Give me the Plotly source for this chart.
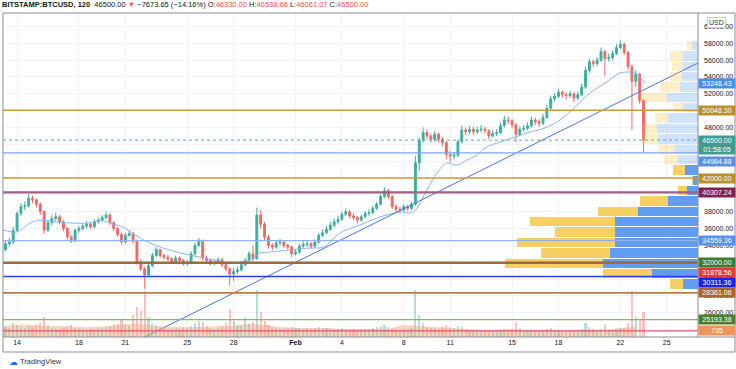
import plotly.graph_objects as go
import pandas as pd
import numpy as np

# ---------------- DATA ----------------
# 6-hour candles starting 2021-01-13 06:00 (prices in thousands USD)
first_open_k = 33.5
close_k = [34.2, 34.4, 35.8, 37.8, 38.6, 38.7, 39.6, 39.4, 38.9, 38.0,
           35.8, 36.7, 37.2, 37.4, 36.8, 36.0, 35.0, 34.5, 35.8, 36.0,
           36.3, 36.5, 36.2, 36.8, 37.0, 37.3, 37.6, 36.7, 36.0, 35.3,
           34.4, 35.2, 35.4, 34.5, 32.0, 31.2, 30.5, 31.6, 32.8, 33.5,
           32.8, 32.6, 32.4, 32.0, 32.5, 32.2, 31.8, 32.0, 33.0, 34.0,
           34.6, 32.5, 32.2, 31.9, 32.0, 32.3, 31.7, 31.2, 30.6, 30.9,
           31.1, 31.7, 32.2, 33.0, 32.4, 37.6, 36.5, 35.0, 34.0, 33.8,
           34.3, 34.4, 34.0, 33.8, 33.0, 33.2, 33.9, 34.1, 34.2, 33.9,
           34.4, 35.2, 35.5, 35.9, 36.4, 36.8, 37.1, 37.7, 38.0, 37.5,
           37.3, 37.0, 37.4, 37.8, 37.9, 38.4, 38.9, 39.8, 40.5, 39.8,
           38.6, 38.3, 38.2, 38.6, 38.4, 38.9, 43.8, 46.5, 47.4, 47.0,
           46.6, 47.2, 46.6, 46.2, 44.8, 44.6, 44.7, 46.3, 47.7, 47.5,
           47.8, 47.5, 47.7, 47.8, 47.6, 47.0, 47.3, 47.4, 48.2, 48.9,
           48.8, 48.3, 47.2, 47.8, 47.9, 48.2, 48.9, 48.7, 48.5, 49.2,
           50.3, 51.4, 51.7, 52.2, 51.9, 51.8, 52.0, 51.5, 51.9, 52.8,
           54.8, 55.8, 55.6, 56.0, 57.0, 56.2, 56.3, 56.8, 57.5, 57.9,
           56.9, 55.2, 53.5, 54.3, 51.2, 46.5]
high_k = [34.6, 34.9, 36.2, 38.0, 39.0, 39.2, 40.1, 39.9, 39.6, 39.1,
          38.2, 37.0, 37.6, 37.9, 37.6, 37.0, 36.2, 35.2, 36.0, 36.3,
          36.6, 36.9, 36.8, 37.1, 37.3, 37.6, 38.0, 37.8, 36.9, 36.2,
          35.5, 35.5, 35.8, 35.6, 34.7, 32.4, 31.5, 31.9, 33.1, 33.8,
          33.6, 33.0, 32.9, 32.6, 32.8, 32.7, 32.4, 32.3, 33.3, 34.3,
          34.9, 34.7, 32.8, 32.4, 32.3, 32.6, 32.5, 31.9, 31.4, 31.3,
          31.5, 32.0, 32.5, 33.3, 34.0, 38.5, 38.2, 36.8, 35.3, 34.3,
          34.6, 34.8, 34.6, 34.2, 34.0, 33.5, 34.2, 34.5, 34.6, 34.4,
          34.7, 35.5, 35.9, 36.3, 36.8, 37.2, 37.5, 38.0, 38.4, 38.2,
          37.8, 37.5, 37.7, 38.1, 38.3, 38.7, 39.2, 40.1, 40.9, 40.7,
          40.0, 38.9, 38.6, 38.9, 38.8, 39.2, 44.6, 46.8, 48.0, 47.8,
          47.3, 47.6, 47.4, 46.9, 46.4, 45.2, 45.1, 46.6, 48.2, 48.0,
          48.2, 48.1, 48.1, 48.3, 48.1, 47.8, 47.7, 47.8, 48.6, 49.4,
          49.3, 49.0, 48.5, 48.1, 48.3, 48.6, 49.3, 49.2, 49.0, 49.6,
          50.7, 51.8, 52.1, 52.6, 52.4, 52.2, 52.4, 52.2, 52.3, 53.2,
          55.2, 56.2, 56.1, 56.4, 57.5, 57.2, 56.8, 57.2, 57.9, 58.35,
          58.1, 57.1, 55.5, 54.8, 54.5, 51.4]
low_k = [33.3, 33.9, 34.2, 35.6, 37.5, 38.2, 38.5, 39.0, 38.5, 37.6,
         35.4, 35.6, 36.4, 36.9, 36.5, 35.7, 34.7, 34.3, 34.4, 35.5,
         35.8, 36.0, 35.9, 36.0, 36.6, 36.8, 37.1, 36.4, 35.7, 35.0,
         34.1, 34.2, 35.0, 34.2, 31.7, 30.9, 28.8, 30.3, 31.4, 32.6,
         32.5, 32.3, 32.1, 31.8, 31.8, 31.9, 31.6, 31.6, 31.9, 32.8,
         33.8, 32.2, 31.9, 31.6, 31.6, 31.9, 31.4, 30.9, 29.2, 29.8,
         30.6, 30.9, 31.5, 32.0, 32.1, 32.3, 36.0, 34.6, 33.6, 33.4,
         33.6, 34.0, 33.7, 33.5, 32.6, 32.8, 33.0, 33.7, 33.8, 33.6,
         33.7, 34.2, 35.0, 35.3, 35.7, 36.1, 36.5, 36.9, 37.5, 37.2,
         37.0, 36.6, 36.8, 37.2, 37.5, 37.7, 38.2, 38.7, 39.6, 39.5,
         38.3, 38.0, 37.8, 38.0, 38.1, 38.2, 38.7, 42.8, 46.2, 46.6,
         46.2, 46.3, 46.2, 45.8, 44.2, 43.9, 44.2, 44.5, 46.1, 47.1,
         47.2, 47.1, 47.2, 47.4, 47.2, 46.6, 46.8, 47.0, 47.2, 48.0,
         48.4, 47.9, 46.3, 47.0, 47.5, 47.7, 48.0, 48.3, 48.1, 48.3,
         49.0, 50.1, 51.1, 51.5, 51.5, 51.3, 51.5, 51.0, 51.2, 51.7,
         52.6, 54.5, 55.2, 55.3, 55.8, 54.1, 55.8, 56.0, 56.6, 57.3,
         56.6, 54.8, 47.7, 52.8, 50.8, 45.0]
# volume per candle (BTC)
volume = [1200, 1080, 1680, 1440, 1200, 1080, 1320, 1200, 1440, 1680,
          2400, 1440, 1080, 960, 960, 1080, 1200, 1440, 1080, 960,
          960, 840, 960, 960, 1080, 960, 1200, 1320, 1440, 1560,
          2160, 1440, 1320, 2640, 3600, 3120, 5520, 2400, 1680, 1440,
          1200, 1080, 960, 960, 1080, 960, 1200, 1080, 1320, 1680,
          1920, 1800, 1320, 1080, 960, 1080, 1320, 1680, 3360, 1920,
          1440, 1440, 2400, 1560, 1800, 5640, 3000, 1920, 1440, 1200,
          1080, 960, 960, 1080, 1200, 1080, 1080, 960, 1080, 960,
          1080, 1200, 1080, 1080, 1080, 960, 960, 1080, 960, 960,
          960, 840, 960, 960, 960, 1080, 1200, 1320, 1440, 1200,
          1080, 960, 840, 960, 960, 1080, 5640, 2640, 1680, 1200,
          1080, 1080, 960, 1200, 1440, 1200, 1080, 1320, 1200, 960,
          840, 840, 840, 720, 720, 840, 720, 720, 840, 960,
          840, 960, 1800, 1080, 840, 720, 840, 720, 720, 840,
          960, 1080, 840, 840, 720, 720, 720, 720, 840, 960,
          1680, 1200, 960, 840, 960, 1440, 840, 840, 960, 1080,
          1080, 1680, 5520, 2400, 2160, 3000]
# volume moving average (daily samples, BTC)
vol_ma_dates = pd.date_range("2021-01-13", "2021-02-23 12:00", freq="D")
vol_ma = [1320, 1440, 1440, 1320, 1320, 1200, 1200, 1320, 1560, 1560,
          1320, 1200, 1200, 1200, 1320, 1320, 1560, 1440, 1200, 1080,
          1080, 1080, 960, 960, 960, 960, 1440, 1320, 1200, 1080,
          960, 840, 840, 960, 840, 840, 720, 840, 840, 840, 1080, 1200]
# moving average line of price
ma_dates = ["2021-01-13 02:00", "2021-01-14 00:00", "2021-01-14 20:00", "2021-01-15 12:00",
            "2021-01-16 11:00", "2021-01-17 10:00", "2021-01-18 17:00", "2021-01-19 09:00",
            "2021-01-20 00:00", "2021-01-20 23:30", "2021-01-21 15:00", "2021-01-22 14:00",
            "2021-01-23 10:30", "2021-01-24 13:00", "2021-01-25 20:00", "2021-01-26 19:00",
            "2021-01-27 11:00", "2021-01-28 10:00", "2021-01-29 09:00", "2021-01-29 17:00",
            "2021-01-30 08:30", "2021-01-31 15:30", "2021-02-01 22:30", "2021-02-02 19:00",
            "2021-02-03 21:00", "2021-02-05 04:00", "2021-02-06 11:00", "2021-02-07 18:00",
            "2021-02-08 14:30", "2021-02-09 12:00", "2021-02-10 03:30", "2021-02-10 19:00",
            "2021-02-11 10:30", "2021-02-12 02:00", "2021-02-12 17:45", "2021-02-13 06:00",
            "2021-02-14 05:30", "2021-02-15 04:30", "2021-02-16 04:00", "2021-02-17 03:00",
            "2021-02-18 02:30", "2021-02-19 01:45", "2021-02-20 01:00", "2021-02-21 00:15",
            "2021-02-21 23:30", "2021-02-22 10:30", "2021-02-22 23:00", "2021-02-23 14:30"]
ma_k = [35.83, 35.60, 36.66, 37.00, 36.78, 36.66, 36.66, 37.00, 36.66, 36.06,
        35.23, 34.28, 33.69, 33.10, 32.60, 32.25, 32.00, 32.00, 32.60, 33.10,
        33.21, 33.45, 33.69, 33.80, 35.47, 36.42, 37.37, 37.96, 37.96, 40.57,
        42.60, 43.78, 43.55, 44.14, 44.73, 45.57, 46.28, 46.87, 47.46, 47.94,
        48.89, 50.43, 52.10, 53.28, 54.47, 54.59, 54.47, 53.28]
ma_last = 53248.43
# trend line anchors
trend_dates = ["2021-01-21 22:00", "2021-02-27 00:00"]
trend_prices = [22800, 55650]
# horizontal levels
level_values = [50048.30, 44984.88, 42000.00, 40307.24, 34559.36,
                32000.00, 31878.56, 30311.36, 28361.06, 25193.38]
volume_level = 735
last_price = 46500.00
countdown = "01:58:05"
# volume profile (visible range, 24 rows, bottom -> top): down (yellow), up (blue)
vp_down = [13, 49, 98, 69, 98, 60, 85, 40, 28, 9, 1, 12,
           14, 17, 16, 14, 13, 10, 27, 20, 12, 11, 13, 5]
vp_up = [15, 46, 95, 88, 83, 83, 83, 60, 30, 11, 5, 13,
         20, 23, 40, 41, 30, 15, 31, 18, 16, 15, 15, 6]
value_area_rows = 12  # lowest rows inside value area
# axis ticks
tick_dates = ["2021-01-14", "2021-01-18", "2021-01-21", "2021-01-25", "2021-01-28",
              "2021-02-01", "2021-02-04", "2021-02-08", "2021-02-11", "2021-02-15",
              "2021-02-18", "2021-02-22", "2021-02-25"]
tick_text = ["14", "18", "21", "25", "28", "<b>Feb</b>", "4", "8", "11", "15", "18", "22", "25"]
header = ("<b>BITSTAMP:BTCUSD, 120</b>  46500.00 <span style='color:#ef5350'>▼</span> "
          "−7673.65 (−14.16%) O:<span style='color:#ef5350'>46330.00</span> "
          "H:<span style='color:#ef5350'>46538.66</span> L:<span style='color:#ef5350'>46061.07</span> "
          "C:<span style='color:#ef5350'>46500.00</span>")

# ---------------- STYLE ----------------
level_colors = ["#c99b3a", "#7ea5ee", "#c99b3a", "#a06080", "#8db2f2",
                "#4e8a3a", "#e8473f", "#2a3ff0", "#c07a45", "#8ab56a"]
level_widths = [1.6, 1.2, 1.6, 2.2, 1.2, 1.6, 1.6, 1.6, 1.6, 1.2]
label_bg = ["#b8902e", "#5f8de0", "#b8902e", "#7d2550", "#5a8fe8",
            "#3f7a2e", "#e53935", "#1a24ee", "#a8662c", "#4a7f2e"]
label_shift = [0, -9, 0, 0, 0, 0, -9, -6, 0, 0]
FONT = "Liberation Sans, Arial, sans-serif"

# ---------------- BUILD ----------------
t0 = pd.Timestamp("2021-01-13 06:00")
times = pd.date_range(t0, periods=len(close_k), freq="6h")
k = 1000.0
close = np.array(close_k) * k
high = np.array(high_k) * k
low = np.array(low_k) * k
open_ = np.array([first_open_k] + close_k[:-1]) * k

fig = go.Figure()

# volume (overlay axis y2, bottom)
vcol = ["rgba(38,166,154,0.35)" if c >= o else "rgba(239,83,80,0.35)" for o, c in zip(open_, close)]
fig.add_trace(go.Scatter(x=vol_ma_dates, y=vol_ma, yaxis="y2", mode="lines", line=dict(width=0, shape="spline"),
                         fill="tozeroy", fillcolor="rgba(242,165,120,0.45)", hoverinfo="skip"))
fig.add_trace(go.Bar(x=times, y=volume, yaxis="y2", marker=dict(color=vcol, line=dict(width=0)),
                     width=6 * 3600 * 1000 * 0.55, hoverinfo="skip"))

fig.add_trace(go.Candlestick(x=times, open=open_, high=high, low=low, close=close,
                             increasing=dict(line=dict(color="#3fae9f", width=1), fillcolor="#3fae9f"),
                             decreasing=dict(line=dict(color="#ef6b67", width=1), fillcolor="#ef6b67"),
                             whiskerwidth=0, hoverinfo="skip"))

fig.add_trace(go.Scatter(x=pd.to_datetime(ma_dates), y=np.array(ma_k) * k, mode="lines",
                         line=dict(color="#86b6f0", width=1, shape="spline"), hoverinfo="skip"))
fig.add_trace(go.Scatter(x=pd.to_datetime(trend_dates), y=trend_prices, mode="lines",
                         line=dict(color="#4a76de", width=1), hoverinfo="skip"))

# volume profile on overlay x axis (x2) from right edge
all_low = low.min()
all_high = high.max()
edges = np.linspace(all_low, all_high, len(vp_up) + 1)
centers = (edges[:-1] + edges[1:]) / 2
rh = edges[1] - edges[0]
n = len(vp_up)
up_col = ["rgba(70,140,238,0.85)" if i < value_area_rows else "rgba(70,140,238,0.25)" for i in range(n)]
dn_col = ["rgba(244,196,60,0.8)" if i < value_area_rows else "rgba(244,196,60,0.28)" for i in range(n)]
fig.add_trace(go.Bar(y=centers, x=vp_up, base=[0] * n, orientation="h", xaxis="x2",
                     marker=dict(color=up_col, line=dict(width=0)), width=rh * 0.9, hoverinfo="skip"))
fig.add_trace(go.Bar(y=centers, x=vp_down, base=vp_up, orientation="h", xaxis="x2",
                     marker=dict(color=dn_col, line=dict(width=0)), width=rh * 0.9, hoverinfo="skip"))

shapes = []
for v, c, w in zip(level_values, level_colors, level_widths):
    shapes.append(dict(type="line", xref="paper", x0=0, x1=1, yref="y", y0=v, y1=v,
                       line=dict(color=c, width=w)))
shapes.append(dict(type="line", xref="paper", x0=0, x1=1, yref="y", y0=last_price, y1=last_price,
                   line=dict(color="#5fb3a6", width=1, dash="dot")))
shapes.append(dict(type="line", xref="paper", x0=0, x1=1, yref="y2", y0=volume_level, y1=volume_level,
                   line=dict(color="#e8507a", width=1.4)))
# frame
fx1 = (735 - 3) / 695
fy0 = (337 - 352) / 324
frame = "#8a8d96"
shapes += [
    dict(type="rect", xref="paper", yref="paper", x0=0, x1=fx1, y0=fy0, y1=1, line=dict(color=frame, width=1)),
    dict(type="line", xref="paper", yref="paper", x0=1, x1=1, y0=0, y1=1, line=dict(color=frame, width=1)),
    dict(type="line", xref="paper", yref="paper", x0=0, x1=fx1, y0=0, y1=0, line=dict(color=frame, width=1)),
]

ann = []
lab_font = dict(family=FONT, size=7, color="white")
def label(y, text, bg, shift=0, yref="y"):
    ann.append(dict(xref="paper", x=1.0, xanchor="left", yref=yref, y=y, yanchor="middle", yshift=shift,
                    text=text, showarrow=False, bgcolor=bg, font=lab_font, width=34, align="center",
                    borderpad=1))
label(ma_last, f"{ma_last:.2f}", "#4a8fe8")
for v, bg, s in zip(level_values, label_bg, label_shift):
    label(v, f"{v:.2f}", bg, s)
label(last_price, f"{last_price:.2f}<br>{countdown}", "#3f9c8e", -5)
label(volume_level, f"{volume_level}", "#f0955a", 0, yref="y2")
ann.append(dict(xref="paper", x=1.0 + 9 / 695, xanchor="left", yref="paper", y=(337 - 22) / 324, yanchor="middle",
                text="USD", showarrow=False, bgcolor="white", bordercolor="#c8cbd3", borderwidth=1, borderpad=1,
                font=dict(family=FONT, size=7, color="#333")))
ann.append(dict(xref="paper", x=-3 / 695, xanchor="left", yref="paper", y=(337 - 5) / 324, yanchor="middle",
                text=header, showarrow=False, font=dict(family=FONT, size=7.5, color="#131722")))
ann.append(dict(xref="paper", x=15 / 695, xanchor="left", yref="paper", y=(337 - 362) / 324, yanchor="middle",
                text="TradingView", showarrow=False, font=dict(family=FONT, size=7.5, color="#333")))
ann.append(dict(xref="paper", x=4 / 695, xanchor="left", yref="paper", y=(337 - 362) / 324, yanchor="middle",
                text="<b>☁</b>", showarrow=False, font=dict(family="DejaVu Sans", size=9, color="#2962ff")))

fig.update_layout(
    width=736, height=369, margin=dict(l=3, r=38, t=13, b=32),
    paper_bgcolor="white", plot_bgcolor="white", showlegend=False, bargap=0,
    barmode="overlay", hovermode=False,
    xaxis=dict(type="date", range=[pd.Timestamp("2021-01-13 02:10"), pd.Timestamp("2021-02-27 00:30")],
               tickvals=pd.to_datetime(tick_dates), ticktext=tick_text, showgrid=True, gridcolor="#f1f3f6",
               gridwidth=1, zeroline=False, rangeslider=dict(visible=False), showline=False, ticks="",
               tickfont=dict(family=FONT, size=7, color="#131722"), fixedrange=True),
    xaxis2=dict(overlaying="x", range=[695, 0], visible=False, showgrid=False, zeroline=False),
    yaxis=dict(side="right", range=[23119, 61599], dtick=2000, tick0=0, tickformat=".2f",
               showgrid=True, gridcolor="#f1f3f6", zeroline=False, ticks="", ticklabelstandoff=5,
               tickfont=dict(family=FONT, size=7, color="#131722")),
    yaxis2=dict(overlaying="y", range=[0, 38880], visible=False, showgrid=False, zeroline=False),
    shapes=shapes, annotations=ann,
)

fig.write_html("out.html", config={"displayModeBar": False, "staticPlot": True},
               post_script="document.body.style.margin='0';document.body.style.padding='0';")
